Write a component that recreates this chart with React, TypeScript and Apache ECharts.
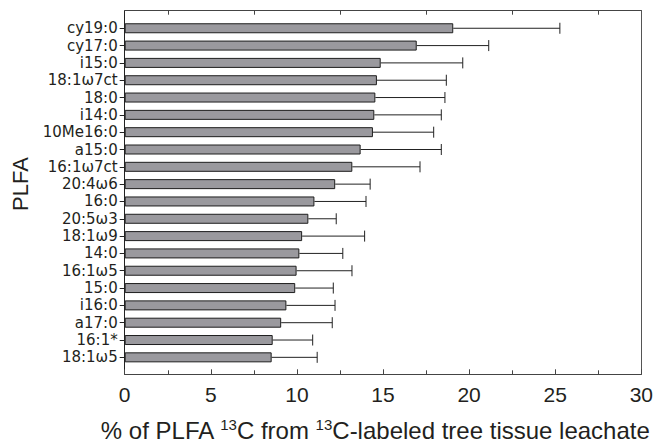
import React, { useEffect, useRef } from "react";
import * as echarts from "echarts";

const categories = [
  "cy19:0", "cy17:0", "i15:0", "18:1ω7ct", "18:0", "i14:0", "10Me16:0", "a15:0",
  "16:1ω7ct", "20:4ω6", "16:0", "20:5ω3", "18:1ω9", "14:0", "16:1ω5", "15:0",
  "i16:0", "a17:0", "16:1*", "18:1ω5",
];
const means = [
  18.98, 16.87, 14.79, 14.57, 14.48, 14.42, 14.34, 13.63, 13.15, 12.16,
  10.96, 10.61, 10.25, 10.09, 9.93, 9.85, 9.34, 9.04, 8.55, 8.49,
];
const errors = [
  6.16, 4.16, 4.74, 4.01, 4.02, 3.87, 3.51, 4.66, 3.91, 2.02,
  2.98, 1.61, 3.61, 2.51, 3.2, 2.2, 2.81, 2.95, 2.31, 2.63,
];
const xTicks = { min: 0, max: 30, interval: 5 };
const xTitle = "% of PLFA {sup|13}C from {sup|13}C-labeled tree tissue leachate";
const yTitle = "PLFA";

const FONT = "'Liberation Sans', Arial, Helvetica, sans-serif";
const LABEL_FONT = "'DejaVu Sans', 'Liberation Sans', sans-serif";
const TXT = "#231f20";

export default function App() {
  const ref = useRef<HTMLDivElement>(null);
  useEffect(() => {
    if (!ref.current) return;
    const chart = echarts.init(ref.current, null, { renderer: "svg" });
    const errData = categories.map((c, i) => [i, means[i], means[i] + errors[i]]);
    chart.setOption({
      animation: false,
      backgroundColor: "#ffffff",
      textStyle: { fontFamily: FONT },
      grid: [
        { left: 124.7, right: 12, top: 10.7, bottom: 70.7 },
        { left: 124.7, right: 12, top: 19.6, bottom: 79 },
      ],
      xAxis: [
        {
          gridIndex: 0, type: "value", position: "bottom",
          min: xTicks.min, max: xTicks.max, interval: xTicks.interval,
          axisLine: { show: true, onZero: false, lineStyle: { color: "#444", width: 1 } },
          axisTick: { show: true, inside: true, length: 5, lineStyle: { color: "#444" } },
          minorTick: { show: true, splitNumber: 2, length: 4, lineStyle: { color: "#444" } },
          axisLabel: { fontSize: 21, color: TXT, margin: 10, fontFamily: FONT },
          splitLine: { show: false },
        },
        {
          gridIndex: 0, type: "value", position: "top",
          min: xTicks.min, max: xTicks.max, interval: xTicks.interval,
          axisLine: { show: true, onZero: false, lineStyle: { color: "#444", width: 1 } },
          axisTick: { show: false, inside: true },
          minorTick: { show: true, splitNumber: 2, length: 4, lineStyle: { color: "#444" } },
          axisLabel: { show: false },
          splitLine: { show: false },
        },
        {
          gridIndex: 1, type: "value", min: xTicks.min, max: xTicks.max, show: false,
        },
      ],
      yAxis: [
        {
          gridIndex: 0, type: "value", position: "left", min: 0, max: 1,
          axisLine: { show: true, onZero: false, lineStyle: { color: "#222", width: 1 } },
          axisTick: { show: false }, axisLabel: { show: false }, splitLine: { show: false },
        },
        {
          gridIndex: 0, type: "value", position: "right", min: 0, max: 1,
          axisLine: { show: true, onZero: false, lineStyle: { color: "#555", width: 1 } },
          axisTick: { show: false }, axisLabel: { show: false }, splitLine: { show: false },
        },
        {
          gridIndex: 1, type: "category", inverse: true, data: categories,
          axisLine: { show: false },
          axisTick: { show: true, alignWithLabel: true, interval: 0, length: 5, lineStyle: { color: "#222" } },
          axisLabel: { fontSize: 15, lineHeight: 15, interval: 0, color: TXT, margin: 7, fontFamily: LABEL_FONT },
          splitLine: { show: false },
        },
      ],
      series: [
        {
          type: "bar", xAxisIndex: 2, yAxisIndex: 2, data: means, barWidth: 10,
          itemStyle: { color: "#9a999e", borderColor: "#1e1e1e", borderWidth: 1 },
          z: 2,
        },
        {
          type: "custom", xAxisIndex: 2, yAxisIndex: 2, data: errData, z: 3,
          encode: { x: [1, 2], y: 0 },
          renderItem: (params: any, api: any) => {
            const idx = api.value(0);
            const s = api.coord([api.value(1), idx]);
            const e = api.coord([api.value(2), idx]);
            const h = 5.5;
            const st = { stroke: "#222", lineWidth: 1 };
            return {
              type: "group",
              children: [
                { type: "line", shape: { x1: s[0], y1: s[1], x2: e[0], y2: e[1] }, style: st },
                { type: "line", shape: { x1: e[0], y1: e[1] - h, x2: e[0], y2: e[1] + h }, style: st },
              ],
            };
          },
        },
      ],
      graphic: [
        {
          type: "text", x: 375, y: 430,
          style: {
            text: xTitle, fontSize: 24, fontFamily: FONT, fill: TXT,
            align: "center", verticalAlign: "middle", lineHeight: 26,
            rich: { sup: { fontSize: 15, lineHeight: 15, verticalAlign: "top", fill: TXT, fontFamily: FONT } },
          },
        },
        {
          type: "text", x: 20, y: 184, rotation: Math.PI / 2,
          style: {
            text: yTitle, fontSize: 22, fontFamily: FONT, fill: TXT,
            align: "center", verticalAlign: "middle",
          },
        },
      ],
    });
    return () => chart.dispose();
  }, []);
  return (
    <div
      ref={ref}
      style={{ position: "fixed", left: 0, top: 0, width: 656, height: 445, background: "#fff" }}
    />
  );
}
